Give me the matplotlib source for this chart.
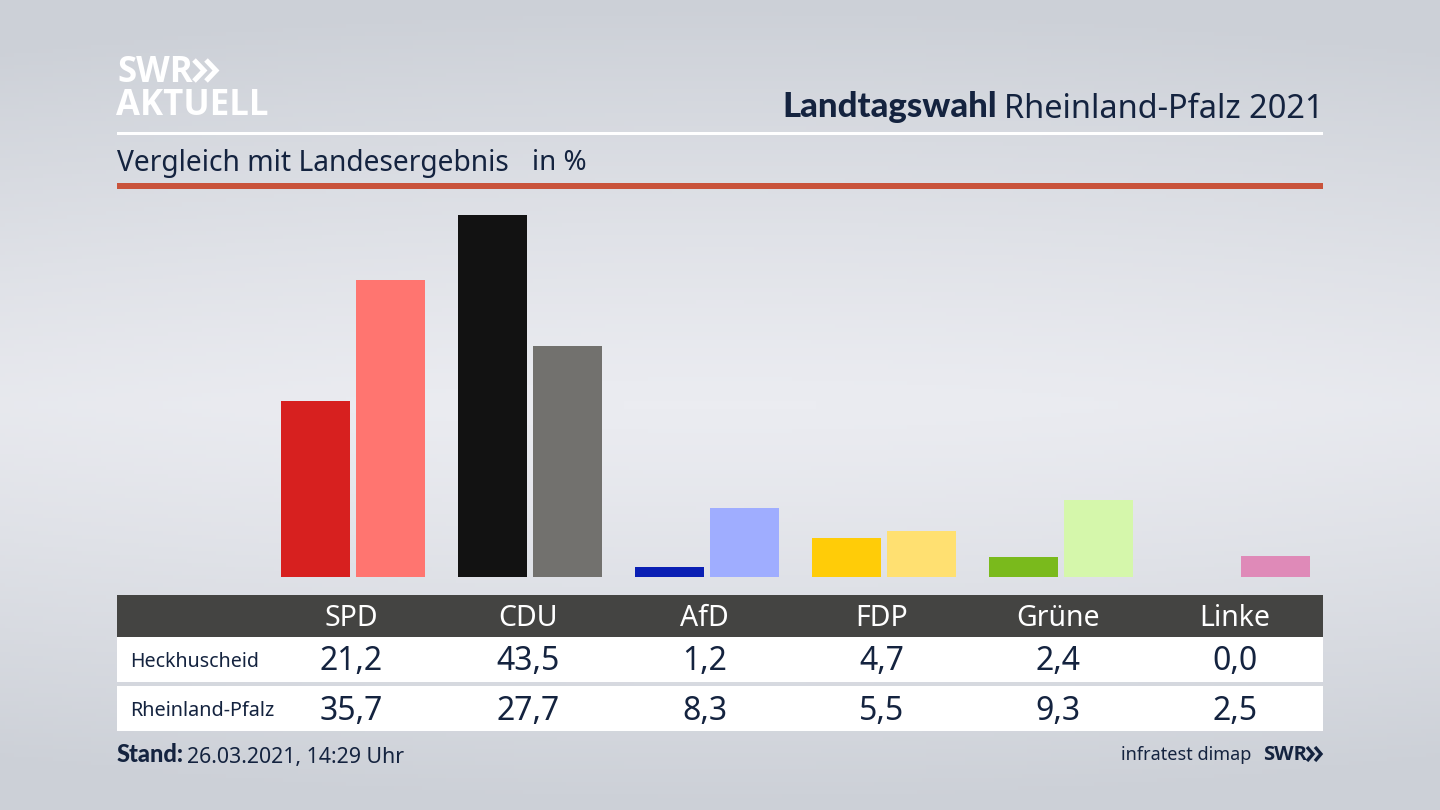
#!/usr/bin/env python3

import numpy as np
import matplotlib
matplotlib.use("Agg")
import matplotlib.pyplot as plt
from matplotlib.patches import Rectangle

parties = ["SPD", "CDU", "AfD", "FDP", "Grüne", "Linke"]
heckhuscheid = [21.2, 43.5, 1.2, 4.7, 2.4, 0.0]
rheinland_pfalz = [35.7, 27.7, 8.3, 5.5, 9.3, 2.5]
colors_local = ["#d7201f", "#121212", "#0a1fb4", "#ffcc08", "#7aba1c", "#c0327e"]
colors_land = ["#ff7570", "#72716e", "#9fadff", "#ffe071", "#d5f7ab", "#df8ab8"]
row_names = ["Heckhuscheid", "Rheinland-Pfalz"]

NAVY = "#14233f"
BOLD = "Lato"
plt.rcParams["font.family"] = ["Noto Sans", "DejaVu Sans"]

fig = plt.figure(figsize=(14.4, 8.1), dpi=100)

# everything except the bars is placed in pixel coords
bg = fig.add_axes([0, 0, 1, 1])
bg.axis("off")

yy = np.linspace(0, 1, 200)[:, None]
xx = np.linspace(0, 1, 300)[None, :]
shade = np.abs(yy - 0.5) * 2
shade = shade ** 1.2 + 0.12 * (np.abs(xx - 0.5) * 2) ** 2
bg.imshow(shade, cmap=matplotlib.colors.LinearSegmentedColormap.from_list("bg", ["#ebecf1", "#ccd0d7"]),
          extent=(0, 1440, 810, 0), aspect="auto", vmin=0, vmax=1, zorder=0)
bg.set_xlim(0, 1440)
bg.set_ylim(810, 0)


def chevrons(x, top, bottom, depth, gap, color, lw):
    # the two arrows of the SWR logo
    mid = (top + bottom) / 2
    for x0 in (x, x + gap):
        bg.plot([x0, x0 + depth, x0], [top, mid, bottom], color=color, lw=lw,
                solid_joinstyle="miter", solid_capstyle="butt", zorder=2)


# header
bg.add_patch(Rectangle((117, 132), 1206, 3, color="white", lw=0, zorder=1))
bg.add_patch(Rectangle((117, 183), 1206, 6, color="#c9533b", lw=0, zorder=1))
bg.text(117, 73, "SWR", color="white", fontsize=25, fontweight="bold", va="center", ha="left",
        family="Open Sans")
chevrons(194, 60, 81, 10, 12, "white", 3.6)
bg.text(116, 106, "AKTUELL", color="white", fontsize=25, fontweight="bold", va="center", ha="left",
        family="Open Sans")
bg.text(1323, 109, "Rheinland-Pfalz 2021", color=NAVY, fontsize=23.4, va="center", ha="right")
bg.text(997, 107, "Landtagswahl", color=NAVY, fontsize=25, fontweight="black", va="center", ha="right",
        family=BOLD)
bg.text(117, 163, "Vergleich mit Landesergebnis", color=NAVY, fontsize=20.3, va="center", ha="left")
bg.text(532, 163, "in %", color=NAVY, fontsize=20, va="center", ha="left")

# table
bg.add_patch(Rectangle((117, 595), 1206, 42, color="#444442", lw=0, zorder=1))
bg.add_patch(Rectangle((117, 637), 1206, 45, color="white", lw=0, zorder=1))
bg.add_patch(Rectangle((117, 686), 1206, 45, color="white", lw=0, zorder=1))
label_x = [351 + 176.8 * i for i in range(len(parties))]
for x, party, a, b in zip(label_x, parties, heckhuscheid, rheinland_pfalz):
    bg.text(x, 618, party, color="white", fontsize=20.5, ha="center", va="center")
    bg.text(x, 662, f"{a:.1f}".replace(".", ","), color=NAVY, fontsize=23, ha="center", va="center")
    bg.text(x, 711, f"{b:.1f}".replace(".", ","), color=NAVY, fontsize=23, ha="center", va="center")
bg.text(130, 662, row_names[0], color=NAVY, fontsize=14.1, ha="left", va="center")
bg.text(130, 711, row_names[1], color=NAVY, fontsize=14.3, ha="left", va="center")

# footer
bg.text(117, 755, "Stand:", color=NAVY, fontsize=17, fontweight="black", ha="left", va="center",
        family=BOLD)
bg.text(187, 757, "26.03.2021, 14:29 Uhr", color=NAVY, fontsize=15.35, ha="left", va="center")
bg.text(1251, 755, "infratest dimap", color=NAVY, fontsize=13, ha="right", va="center")
bg.text(1263, 755, "SWR", color=NAVY, fontsize=14.5, fontweight="bold", ha="left", va="center",
        family="Open Sans")
chevrons(1307, 747, 761, 6, 8, NAVY, 2.4)

# bars: one axes over the plot band, group 0 centred at px 353, step 177
ax = fig.add_axes([117 / 1440, 1 - 577 / 810, 1206 / 1440, 362 / 810])
ax.patch.set_alpha(0)
ax.axis("off")
ax.set_xlim((117 - 353) / 177, (1323 - 353) / 177)
ax.set_ylim(0, 43.5)
pos = np.arange(len(parties))
ax.bar(pos - 37.5 / 177, heckhuscheid, width=69 / 177, color=colors_local, lw=0)
ax.bar(pos + 37.5 / 177, rheinland_pfalz, width=69 / 177, color=colors_land, lw=0)

fig.savefig("out.png", dpi=100)
